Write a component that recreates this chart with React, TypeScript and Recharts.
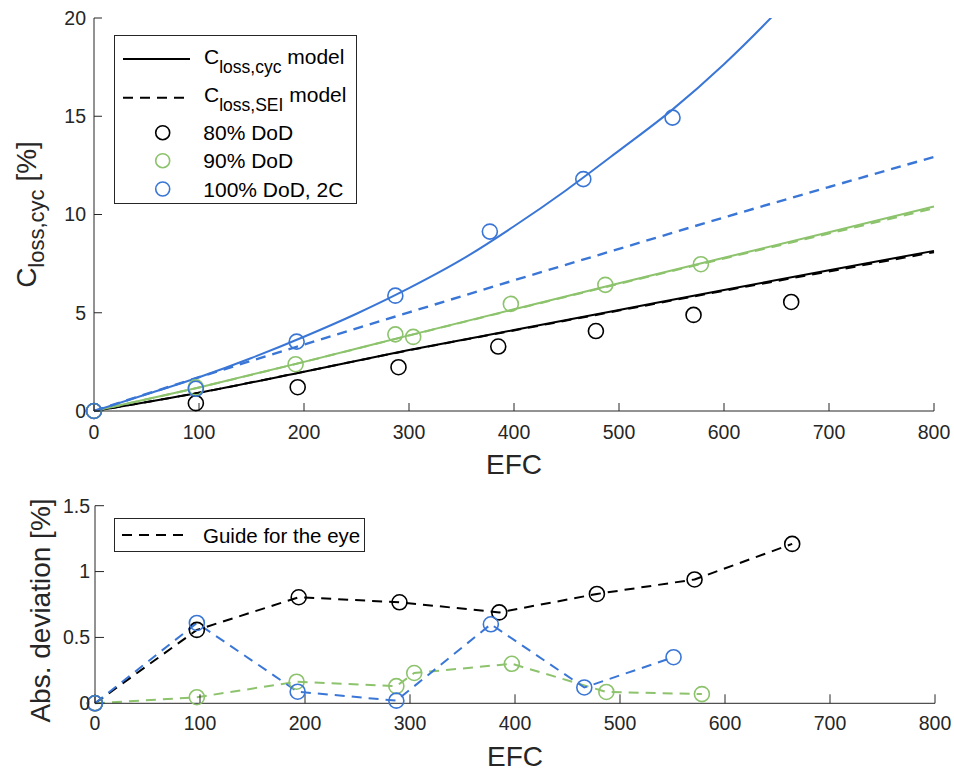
import React from "react";
import { ComposedChart, Line, Scatter, XAxis, YAxis } from "recharts";

const blue = "#3a76d6";
const green = "#8cc36c";
const ink = "#262626";
const font = '"Liberation Sans", Arial, Helvetica, sans-serif';

const xTicks = [0, 100, 200, 300, 400, 500, 600, 700, 800];
const yTicksTop = [0, 5, 10, 15, 20];
const yTicksBottom = [0, 0.5, 1, 1.5];

// model curves
const modelEfc = [0, 100, 200, 300, 400, 500, 600, 700, 800];
const cycModel80 = [0, 0.93, 2.0, 3.1, 4.12, 5.14, 6.16, 7.16, 8.15];
const seiModel80 = [0, 0.93, 2.0, 3.09, 4.1, 5.11, 6.12, 7.1, 8.08];
const cycModel90 = [0, 1.2, 2.5, 3.85, 5.18, 6.5, 7.8, 9.1, 10.41];
const seiModel90 = [0, 1.2, 2.5, 3.84, 5.16, 6.47, 7.76, 9.03, 10.32];
const seiModel100 = [0, 1.72, 3.38, 5.02, 6.65, 8.25, 9.85, 11.4, 12.93];
const cycEfc100 = [0, 50, 100, 150, 200, 250, 300, 350, 400, 450, 500, 550, 600, 650, 700];
const cycModel100 = [0, 0.85, 1.72, 2.7, 3.78, 4.95, 6.25, 7.7, 9.4, 11.25, 13.25, 15.3, 17.65, 20.3, 23.2];

// measurements
const efc80 = [0, 97, 194, 290, 385, 478, 571, 664];
const loss80 = [0, 0.4, 1.21, 2.23, 3.28, 4.07, 4.89, 5.55];
const dev80 = [0, 0.557, 0.805, 0.767, 0.69, 0.83, 0.94, 1.21];

const efc90 = [0, 97, 192, 287, 304, 397, 487, 578];
const loss90 = [0, 1.2, 2.38, 3.9, 3.77, 5.45, 6.42, 7.47];
const dev90 = [0, 0.046, 0.164, 0.13, 0.23, 0.3, 0.086, 0.07];

const efc100 = [0, 97, 193, 287, 377, 466, 551];
const loss100 = [0, 1.13, 3.53, 5.87, 9.13, 11.8, 14.93];
const dev100 = [0, 0.61, 0.088, 0.02, 0.6, 0.12, 0.35];

const pts = (xs: number[], ys: number[]) => xs.map((x, i) => ({ x, y: ys[i] }));

const ring = (color: string) => (p: any) => (
  <circle key={`r-${p.index}-${p.cx}`} cx={p.cx} cy={p.cy} r={7.5} fill="none" stroke={color} strokeWidth={1.6} />
);

const tickStyle = { fill: ink, fontSize: 19.5, fontFamily: font };
const dash = "10 7";

function TopChart() {
  return (
    <ComposedChart width={954} height={490} margin={{ top: 18, right: 20, bottom: 19, left: 34 }} style={{ fontFamily: font }}>
      <XAxis
        dataKey="x"
        type="number"
        domain={[0, 800]}
        ticks={xTicks}
        height={60}
        tickSize={-8}
        tickMargin={22}
        stroke={ink}
        tick={tickStyle}
        label={{
          content: (p: any) => {
            const vb = p.viewBox ?? { x: 94, y: 411, width: 840 };
            return (
              <text x={vb.x + vb.width / 2} y={vb.y + 63} textAnchor="middle" fontSize={28} fill={ink}>
                EFC
              </text>
            );
          },
        }}
      />
      <XAxis xAxisId="t" orientation="top" type="number" domain={[0, 800]} ticks={xTicks} height={0} tickSize={-8} tick={false} stroke={ink} />
      <YAxis
        dataKey="y"
        type="number"
        domain={[0, 20]}
        ticks={yTicksTop}
        width={60}
        tickSize={-8}
        tickMargin={16}
        stroke={ink}
        tick={tickStyle}
        label={{
          content: () => (
            <text transform="translate(36,214.5) rotate(-90)" textAnchor="middle" fontSize={28} fill={ink}>
              C<tspan dy={8} fontSize={22}>loss,cyc</tspan>
              <tspan dy={-8}> [%]</tspan>
            </text>
          ),
        }}
      />
      {/* right frame axis, also clips the steep 100% DoD model at 20 % */}
      <YAxis yAxisId="r" orientation="right" type="number" domain={[0, 20]} ticks={yTicksTop} allowDataOverflow width={0} tickSize={-8} tick={false} stroke={ink} />

      <Line data={pts(modelEfc, cycModel80)} dataKey="y" type="monotone" stroke="#000" strokeWidth={2} dot={false} isAnimationActive={false} />
      <Line data={pts(modelEfc, seiModel80)} dataKey="y" type="monotone" stroke="#000" strokeWidth={2} strokeDasharray={dash} dot={false} isAnimationActive={false} />
      <Line data={pts(modelEfc, cycModel90)} dataKey="y" type="monotone" stroke={green} strokeWidth={2} dot={false} isAnimationActive={false} />
      <Line data={pts(modelEfc, seiModel90)} dataKey="y" type="monotone" stroke={green} strokeWidth={2} strokeDasharray={dash} dot={false} isAnimationActive={false} />
      <Line data={pts(modelEfc, seiModel100)} dataKey="y" type="monotone" stroke={blue} strokeWidth={2.4} strokeDasharray={dash} dot={false} isAnimationActive={false} />
      <Line yAxisId="r" data={pts(cycEfc100, cycModel100)} dataKey="y" type="monotone" stroke={blue} strokeWidth={2} dot={false} isAnimationActive={false} />

      <Scatter data={pts(efc80, loss80)} shape={ring("#000")} isAnimationActive={false} />
      <Scatter data={pts(efc90, loss90)} shape={ring(green)} isAnimationActive={false} />
      <Scatter data={pts(efc100, loss100)} shape={ring(blue)} isAnimationActive={false} />
    </ComposedChart>
  );
}

function BottomChart() {
  return (
    <ComposedChart width={954} height={281} margin={{ top: 15.7, right: 19, bottom: 7.7, left: 35 }} style={{ fontFamily: font }}>
      <XAxis
        dataKey="x"
        type="number"
        domain={[0, 800]}
        ticks={xTicks}
        height={60}
        tickSize={-9}
        tickMargin={22}
        stroke={ink}
        tick={tickStyle}
        label={{
          content: (p: any) => {
            const vb = p.viewBox ?? { x: 95, y: 213.3, width: 840 };
            return (
              <text x={vb.x + vb.width / 2} y={vb.y + 63} textAnchor="middle" fontSize={28} fill={ink}>
                EFC
              </text>
            );
          },
        }}
      />
      <XAxis xAxisId="t" orientation="top" type="number" domain={[0, 800]} ticks={xTicks} height={0} tickSize={-9} tick={false} stroke={ink} />
      <YAxis
        dataKey="y"
        type="number"
        domain={[0, 1.5]}
        ticks={yTicksBottom}
        width={60}
        tickSize={-9}
        tickMargin={14}
        stroke={ink}
        tick={tickStyle}
        label={{
          content: () => (
            <text transform="translate(49.5,120.5) rotate(-90)" textAnchor="middle" fontSize={28} fill={ink}>
              Abs. deviation [%]
            </text>
          ),
        }}
      />
      <YAxis yAxisId="r" orientation="right" type="number" domain={[0, 1.5]} ticks={yTicksBottom} width={0} tickSize={-9} tick={false} stroke={ink} />

      <Line data={pts(efc80, dev80)} dataKey="y" type="linear" stroke="#000" strokeWidth={2} strokeDasharray={dash} dot={ring("#000")} isAnimationActive={false} />
      <Line data={pts(efc90, dev90)} dataKey="y" type="linear" stroke={green} strokeWidth={2} strokeDasharray={dash} dot={ring(green)} isAnimationActive={false} />
      <Line data={pts(efc100, dev100)} dataKey="y" type="linear" stroke={blue} strokeWidth={2} strokeDasharray={dash} dot={ring(blue)} isAnimationActive={false} />
    </ComposedChart>
  );
}

function TopLegend() {
  const rows = [
    { label: "80% DoD", color: "#000", cy: 97.7 },
    { label: "90% DoD", color: green, cy: 125.7 },
    { label: "100% DoD, 2C", color: blue, cy: 154 },
  ];
  return (
    <svg width={244} height={170} style={{ position: "absolute", left: 114, top: 35, fontFamily: font }}>
      <rect x={0.5} y={0.5} width={242} height={168} fill="#fff" stroke={ink} strokeWidth={1} />
      <line x1={9} x2={76} y1={24} y2={24} stroke="#000" strokeWidth={2} />
      <text x={90} y={28.5} fontSize={21} fill="#000">
        C<tspan dy={9} fontSize={17.5}>loss,cyc</tspan>
        <tspan dy={-9}> model</tspan>
      </text>
      <line x1={9} x2={76} y1={62.7} y2={62.7} stroke="#000" strokeWidth={2} strokeDasharray={dash} />
      <text x={90} y={67.3} fontSize={21} fill="#000">
        C<tspan dy={9} fontSize={17.5}>loss,SEI</tspan>
        <tspan dy={-9}> model</tspan>
      </text>
      {rows.map((r) => (
        <g key={r.label}>
          <circle cx={48.7} cy={r.cy} r={7} fill="none" stroke={r.color} strokeWidth={1.6} />
          <text x={89.3} y={r.cy + 7.5} fontSize={21} fill="#000">
            {r.label}
          </text>
        </g>
      ))}
    </svg>
  );
}

function BottomLegend() {
  return (
    <svg width={252} height={36} style={{ position: "absolute", left: 114, top: 518, fontFamily: font }}>
      <rect x={0.5} y={0.5} width={250} height={33} fill="#fff" stroke={ink} strokeWidth={1} />
      <line x1={8} x2={76} y1={17} y2={17} stroke="#000" strokeWidth={2} strokeDasharray={dash} />
      <text x={89} y={24.5} fontSize={20.5} fill="#000">
        Guide for the eye
      </text>
    </svg>
  );
}

export default function App() {
  return (
    <div style={{ position: "absolute", left: 0, top: 0, width: 954, height: 771, background: "#fff", fontFamily: font }}>
      <div style={{ position: "absolute", left: 0, top: 0 }}>
        <TopChart />
      </div>
      <div style={{ position: "absolute", left: 0, top: 490 }}>
        <BottomChart />
      </div>
      <TopLegend />
      <BottomLegend />
    </div>
  );
}
